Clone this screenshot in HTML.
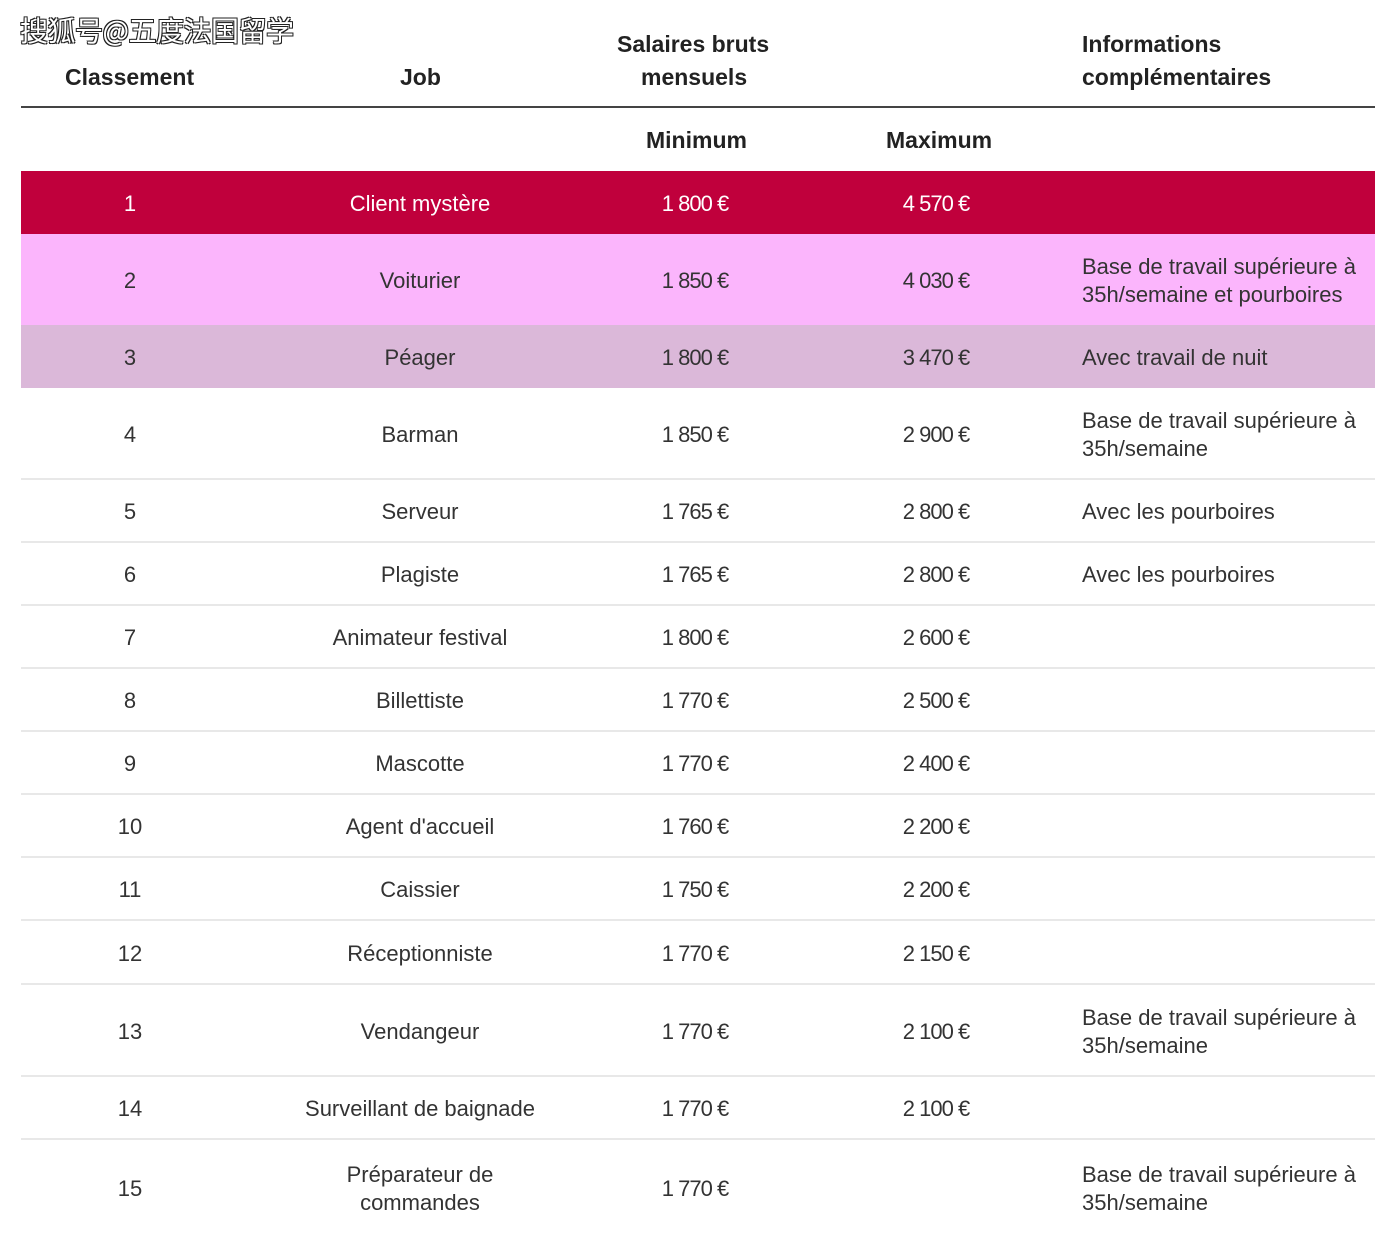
<!DOCTYPE html>
<html><head><meta charset="utf-8"><style>
*{margin:0;padding:0;box-sizing:border-box}
body{width:1394px;height:1254px;background:#fff;position:relative;overflow:hidden;font-family:"Liberation Sans",sans-serif;color:#333;font-size:22px}
.wm{position:absolute;left:20px;top:10px;font-family:"Noto Sans CJK SC","WenQuanYi Zen Hei",sans-serif;font-size:28px;color:#fff;text-shadow:1px 1px 0 #222,-1px -1px 0 #222,1px -1px 0 #222,-1px 1px 0 #222;letter-spacing:-0.5px}
.h{position:absolute;font-weight:bold;color:#222;font-size:23px;line-height:33px;white-space:nowrap}
.row{position:absolute;left:21px;width:1354px}
.c{position:absolute;top:0;bottom:0;padding-top:3px;display:flex;align-items:center;justify-content:center;text-align:center;line-height:28px;white-space:nowrap}
.c3 span,.c4 span{letter-spacing:-1px}
.c1{left:0;width:218px}
.c2{left:249px;width:300px}
.c3{left:574px;width:200px}
.c4{left:815px;width:200px}
.c5{left:1061px;width:320px;justify-content:flex-start;text-align:left}
.sep{border-bottom:2px solid #e8e8e8}
</style></head><body>
<div class="wm">搜狐号@五度法国留学</div>
<div class="h" style="left:65px;top:61px">Classement</div>
<div class="h" style="left:400px;top:61px">Job</div>
<div class="h" style="left:617px;top:28px">Salaires bruts<br><span style="margin-left:24px">mensuels</span></div>
<div class="h" style="left:1082px;top:28px">Informations<br>complémentaires</div>
<div style="position:absolute;left:21px;top:106px;width:1354px;height:2px;background:#444"></div>
<div class="h" style="left:646px;top:124px">Minimum</div>
<div class="h" style="left:886px;top:124px">Maximum</div>

<div class="row" style="top:171px;height:63px;background:#c0003c;color:#fff"><div class="c c1"><span>1</span></div><div class="c c2"><span>Client mystère</span></div><div class="c c3"><span>1 800 €</span></div><div class="c c4"><span>4 570 €</span></div></div>
<div class="row" style="top:234px;height:91px;background:#fbb5fc"><div class="c c1"><span>2</span></div><div class="c c2"><span>Voiturier</span></div><div class="c c3"><span>1 850 €</span></div><div class="c c4"><span>4 030 €</span></div><div class="c c5"><span>Base de travail supérieure à<br>35h/semaine et pourboires</span></div></div>
<div class="row" style="top:325px;height:63px;background:#dbb8d9"><div class="c c1"><span>3</span></div><div class="c c2"><span>Péager</span></div><div class="c c3"><span>1 800 €</span></div><div class="c c4"><span>3 470 €</span></div><div class="c c5"><span>Avec travail de nuit</span></div></div>

<div class="row sep" style="top:388px;height:92px"><div class="c c1"><span>4</span></div><div class="c c2"><span>Barman</span></div><div class="c c3"><span>1 850 €</span></div><div class="c c4"><span>2 900 €</span></div><div class="c c5"><span>Base de travail supérieure à<br>35h/semaine</span></div></div>
<div class="row sep" style="top:480px;height:63px"><div class="c c1"><span>5</span></div><div class="c c2"><span>Serveur</span></div><div class="c c3"><span>1 765 €</span></div><div class="c c4"><span>2 800 €</span></div><div class="c c5"><span>Avec les pourboires</span></div></div>
<div class="row sep" style="top:543px;height:63px"><div class="c c1"><span>6</span></div><div class="c c2"><span>Plagiste</span></div><div class="c c3"><span>1 765 €</span></div><div class="c c4"><span>2 800 €</span></div><div class="c c5"><span>Avec les pourboires</span></div></div>
<div class="row sep" style="top:606px;height:63px"><div class="c c1"><span>7</span></div><div class="c c2"><span>Animateur festival</span></div><div class="c c3"><span>1 800 €</span></div><div class="c c4"><span>2 600 €</span></div></div>
<div class="row sep" style="top:669px;height:63px"><div class="c c1"><span>8</span></div><div class="c c2"><span>Billettiste</span></div><div class="c c3"><span>1 770 €</span></div><div class="c c4"><span>2 500 €</span></div></div>
<div class="row sep" style="top:732px;height:63px"><div class="c c1"><span>9</span></div><div class="c c2"><span>Mascotte</span></div><div class="c c3"><span>1 770 €</span></div><div class="c c4"><span>2 400 €</span></div></div>
<div class="row sep" style="top:795px;height:63px"><div class="c c1"><span>10</span></div><div class="c c2"><span>Agent d'accueil</span></div><div class="c c3"><span>1 760 €</span></div><div class="c c4"><span>2 200 €</span></div></div>
<div class="row sep" style="top:858px;height:63px"><div class="c c1"><span>11</span></div><div class="c c2"><span>Caissier</span></div><div class="c c3"><span>1 750 €</span></div><div class="c c4"><span>2 200 €</span></div></div>
<div class="row sep" style="top:921px;height:64px"><div class="c c1"><span>12</span></div><div class="c c2"><span>Réceptionniste</span></div><div class="c c3"><span>1 770 €</span></div><div class="c c4"><span>2 150 €</span></div></div>
<div class="row sep" style="top:985px;height:92px"><div class="c c1"><span>13</span></div><div class="c c2"><span>Vendangeur</span></div><div class="c c3"><span>1 770 €</span></div><div class="c c4"><span>2 100 €</span></div><div class="c c5"><span>Base de travail supérieure à<br>35h/semaine</span></div></div>
<div class="row sep" style="top:1077px;height:63px"><div class="c c1"><span>14</span></div><div class="c c2"><span>Surveillant de baignade</span></div><div class="c c3"><span>1 770 €</span></div><div class="c c4"><span>2 100 €</span></div></div>
<div class="row" style="top:1140px;height:94px"><div class="c c1"><span>15</span></div><div class="c c2"><span>Préparateur de<br>commandes</span></div><div class="c c3"><span>1 770 €</span></div><div class="c c5"><span>Base de travail supérieure à<br>35h/semaine</span></div></div>
</body></html>
